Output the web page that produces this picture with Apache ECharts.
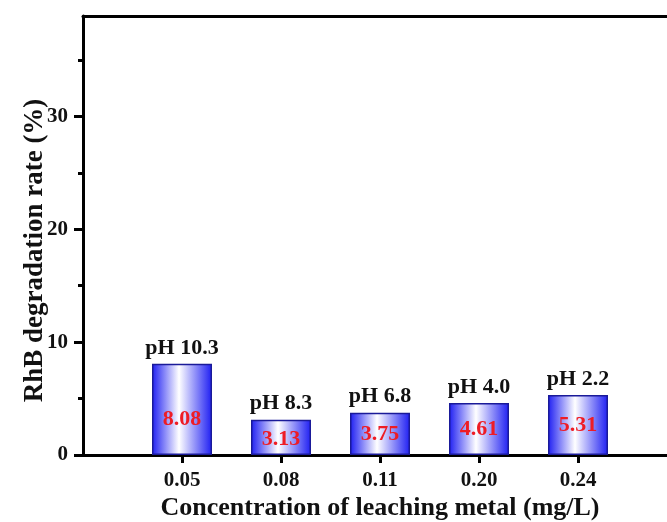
<!DOCTYPE html>
<html>
<head>
<meta charset="utf-8">
<script src="https://cdn.jsdelivr.net/npm/echarts@6/dist/echarts.min.js"></script>
<style>html,body{margin:0;padding:0;background:#fff}#c{width:667px;height:522px}</style>
</head>
<body>
<div id="c"></div>
<script>
const categories = ['0.05', '0.08', '0.11', '0.20', '0.24'];
const rates = [8.08, 3.13, 3.75, 4.61, 5.31];
const errors = [0.12, 0.12, 0.12, 0.1, 0.12];
const phLabels = ['pH 10.3', 'pH 8.3', 'pH 6.8', 'pH 4.0', 'pH 2.2'];
const yMajorTicks = [0, 10, 20, 30];
const yMinorTicks = [5, 15, 25, 35];

const FONT = '"Liberation Serif", "Times New Roman", serif';
const valueLabelOffsets = [[0, 10], [0, 2], [0, 0], [0, 0], [0, 0]];

// category axis padded with empty slots at both ends (axis starts one step before first bar)
const axisCats = [''].concat(categories, ['']);
const pad = v => ['-'].concat(v, ['-']);
const isReal = i => i >= 1 && i <= categories.length;

const chart = echarts.init(document.getElementById('c'), null, {renderer: 'canvas'});
const barGradient = new echarts.graphic.LinearGradient(0, 0, 1, 0, [
  {offset: 0, color: '#1e1ef2'},
  {offset: 0.45, color: '#ffffff'},
  {offset: 1, color: '#1e1ef2'}
]);

const mainData = pad(rates.map((v, i) => ({value: v, label: {offset: valueLabelOffsets[i]}})));

chart.setOption({
  animation: false,
  backgroundColor: '#fff',
  grid: {left: 83, top: 16, right: -10, bottom: 67, outerBoundsMode: 'none', containLabel: false},
  xAxis: [{
    type: 'category',
    data: axisCats,
    boundaryGap: false,
    axisLine: {onZero: false, lineStyle: {color: '#000', width: 3}},
    axisTick: {show: true, length: 8, lineStyle: {color: '#000', width: 3}, interval: (i) => isReal(i)},
    axisLabel: {interval: (i) => isReal(i), margin: 15, color: '#111', fontFamily: FONT, fontWeight: 'bold', fontSize: 21},
    splitLine: {show: false},
    name: 'Concentration of leaching metal (mg/L)',
    nameLocation: 'middle',
    nameGap: 40,
    nameMoveOverlap: false,
    nameTextStyle: {color: '#111', fontFamily: FONT, fontWeight: 'bold', fontSize: 26}
  }, {
    type: 'category',
    data: axisCats,
    boundaryGap: false,
    position: 'top',
    axisLine: {onZero: false, lineStyle: {color: '#000', width: 3}},
    axisTick: {show: false},
    axisLabel: {show: false},
    splitLine: {show: false}
  }],
  yAxis: [{
    type: 'value',
    min: 0,
    max: 38.9,
    interval: 10,
    axisLine: {show: true, onZero: false, lineStyle: {color: '#000', width: 3}},
    axisTick: {show: true, length: 9, lineStyle: {color: '#000', width: 3}, customValues: yMajorTicks},
    axisLabel: {margin: 15, color: '#111', fontFamily: FONT, fontWeight: 'bold', fontSize: 21, customValues: yMajorTicks},
    splitLine: {show: false},
    name: 'RhB degradation rate (%)',
    nameLocation: 'middle',
    nameGap: 40,
    nameMoveOverlap: false,
    nameTextStyle: {color: '#111', fontFamily: FONT, fontWeight: 'bold', fontSize: 27, padding: [0, 30, -6, 0]}
  }, {
    type: 'value',
    min: 0,
    max: 38.9,
    position: 'left',
    axisLine: {show: false},
    axisTick: {show: true, length: 5, lineStyle: {color: '#000', width: 3}, customValues: yMinorTicks},
    axisLabel: {show: false},
    splitLine: {show: false}
  }],
  series: [{
    type: 'bar',
    data: mainData,
    barWidth: 60,
    itemStyle: {color: barGradient, borderColor: '#1a1a99', borderWidth: 1.5},
    label: {
      show: true, position: 'inside', color: '#ee1c25',
      fontFamily: FONT, fontWeight: 'bold', fontSize: 22,
      formatter: p => p.value.toFixed(2)
    },
    z: 2
  }, {
    type: 'bar',
    data: pad(rates),
    barWidth: 60,
    barGap: '-100%',
    itemStyle: {color: 'rgba(0,0,0,0)'},
    label: {
      show: true, position: 'top', distance: 5, color: '#111',
      fontFamily: FONT, fontWeight: 'bold', fontSize: 22,
      formatter: p => phLabels[p.dataIndex - 1]
    },
    z: 3
  }, {
    type: 'custom',
    data: pad(rates).map((v, i) => v === '-' ? '-' : [i, v, errors[i - 1]]),
    renderItem: (params, api) => {
      const x = api.value(0), v = api.value(1), e = api.value(2);
      const hi = api.coord([x, v + e]);
      const lo = api.coord([x, v - e]);
      return {
        type: 'rect',
        shape: {x: hi[0] - 6, y: hi[1], width: 12, height: Math.max(2.5, lo[1] - hi[1])},
        style: {fill: '#000'}
      };
    },
    z: 4
  }]
});
</script>
</body>
</html>
